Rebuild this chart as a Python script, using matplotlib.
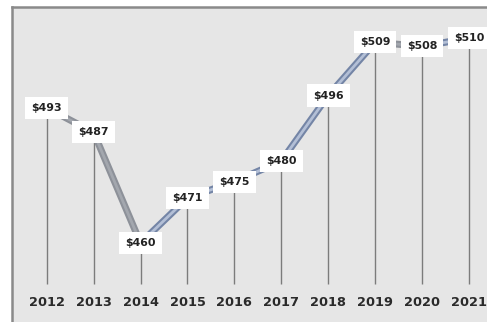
import matplotlib.pyplot as plt

years = [2012, 2013, 2014, 2015, 2016, 2017, 2018, 2019, 2020, 2021]
prices = [493, 487, 460, 471, 475, 480, 496, 509, 508, 510]
labels = ["$493", "$487", "$460", "$471", "$475", "$480", "$496", "$509", "$508", "$510"]

fig = plt.figure(figsize=(4.87, 3.22), dpi=100)
fig.patch.set_facecolor("white")

# plot area runs off the right and bottom edge of the image
ax = fig.add_axes([12 / 487, -3 / 322, 480 / 487, 318 / 322])
ax.set_facecolor("#e6e6e6")
ax.set_xlim(2011.26, 2021.49)
ax.set_ylim(440, 517.6)
for side in ["top", "left"]:
    ax.spines[side].set_color("#8a8a8a")
    ax.spines[side].set_linewidth(1.8)
for side in ["right", "bottom"]:
    ax.spines[side].set_visible(False)
ax.set_xticks([])
ax.set_yticks([])

# drop lines down to the baseline
ax.vlines(years, 450, prices, colors="#7c7c7c", linewidth=1.0, zorder=1)

# price line, shaded per segment: grey going down, blue going up
for i in range(len(years) - 1):
    xs = years[i:i + 2]
    ys = prices[i:i + 2]
    if ys[1] < ys[0]:
        ax.plot(xs, ys, color="#8d9199", linewidth=5, solid_capstyle="butt", zorder=2)
        ax.plot(xs, ys, color="#a3a7ae", linewidth=2, solid_capstyle="butt", zorder=3)
    else:
        ax.plot(xs, ys, color="#7485a6", linewidth=5, solid_capstyle="butt", zorder=2)
        ax.plot(xs, ys, color="#b3bfd6", linewidth=2, solid_capstyle="butt", zorder=3)

for x, y, t in zip(years, prices, labels):
    ax.text(x, y, t, ha="center", va="center", fontsize=7.9, fontweight="bold",
            color="#222222", zorder=5,
            bbox=dict(boxstyle="square,pad=0.55", facecolor="white", edgecolor="none"))

for x in years:
    ax.text(x, 445.4, str(x), ha="center", va="center", fontsize=9.3,
            fontweight="bold", color="#2a2a2a")

fig.savefig("out.png", dpi=100)
